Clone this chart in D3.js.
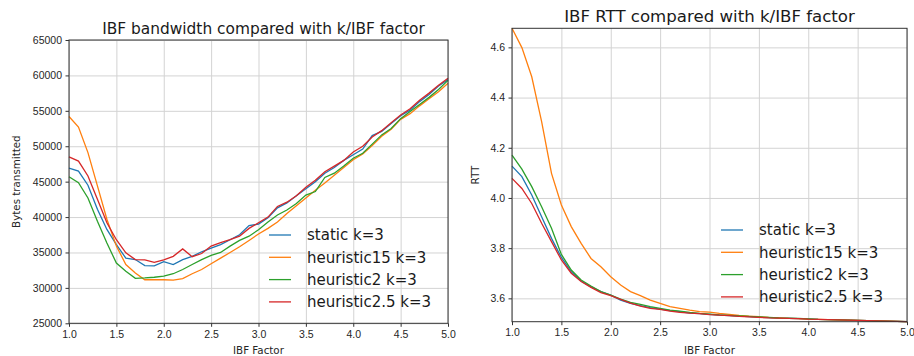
<!DOCTYPE html>
<html>
<head>
<meta charset="utf-8">
<script src="https://cdn.jsdelivr.net/npm/d3@7"></script>
<style>
  body { margin: 0; background: #fff; }
  svg { display: block; font-family: "DejaVu Sans", sans-serif; }
  .grid line { stroke: #d3d3d3; stroke-width: 1; }
  .grid path { display: none; }
  .axis text { fill: #262626; font-size: 10.5px; }
  .axis line { stroke: #333; }
  .axis path { display: none; }
</style>
</head>
<body>
<svg id="chart" width="914" height="356"></svg>
<script>
// IBF factor on the x axis (1.0 .. 5.0, step 0.1)
const ibfFactor = [1.0,1.1,1.2,1.3,1.4,1.5,1.6,1.7,1.8,1.9,2.0,2.1,2.2,2.3,2.4,2.5,2.6,2.7,2.8,2.9,
                   3.0,3.1,3.2,3.3,3.4,3.5,3.6,3.7,3.8,3.9,4.0,4.1,4.2,4.3,4.4,4.5,4.6,4.7,4.8,4.9,5.0];

const seriesNames = ["static k=3", "heuristic15 k=3", "heuristic2 k=3", "heuristic2.5 k=3"];

// bytes transmitted
const bwStatic = [46900,46500,44500,41100,38250,36100,34200,34000,33150,33100,33700,33300,34000,34450,35100,35600,
                  36100,36800,37500,38800,39000,39900,41300,42000,43000,44000,45000,46200,47000,48000,48800,49600,
                  51500,52100,53200,54300,55100,56300,57300,58500,59400];
const bwH15 = [54200,52700,49100,44400,39700,35900,33300,32100,31150,31150,31150,31100,31300,32000,32600,33400,
               34200,35000,35800,36700,37600,38400,39300,40500,41600,42700,43800,44800,45900,47000,48100,48900,
               50100,51400,52400,53800,54600,55700,56700,57700,58900];
const bwH2 = [45700,44850,42700,39400,36350,33500,32350,31350,31400,31500,31650,32000,32600,33300,34000,34600,
              35000,35900,36700,37300,38200,39300,40300,41000,41900,43100,43600,45600,46200,47200,48300,49000,
              50300,51600,52500,53900,54900,55900,56900,58000,59300];
const bwH25 = [48500,47900,45800,42500,39200,36800,34950,34000,33950,33600,33950,34450,35500,34400,34850,35900,
               36400,36800,37300,38400,39200,40000,41500,42100,43000,44200,45200,46400,47200,48000,49200,50000,
               51300,52200,53300,54400,55300,56500,57500,58600,59600];

// round trip time
const rttStatic = [4.127,4.085,4.012,3.925,3.839,3.763,3.706,3.669,3.646,3.627,3.613,3.593,3.580,3.571,3.563,3.557,
                   3.551,3.547,3.541,3.539,3.536,3.533,3.531,3.529,3.527,3.525,3.523,3.521,3.520,3.519,3.518,3.516,
                   3.515,3.514,3.513,3.512,3.511,3.510,3.509,3.508,3.507];
const rttH15 = [4.676,4.599,4.483,4.304,4.098,3.972,3.886,3.819,3.759,3.726,3.686,3.653,3.627,3.611,3.593,3.580,
                3.567,3.560,3.553,3.547,3.545,3.540,3.536,3.532,3.529,3.527,3.524,3.522,3.520,3.519,3.517,3.516,
                3.515,3.514,3.513,3.512,3.511,3.510,3.509,3.508,3.507];
const rttH2 = [4.171,4.115,4.045,3.965,3.879,3.775,3.713,3.673,3.649,3.627,3.613,3.597,3.584,3.576,3.567,3.560,
               3.553,3.549,3.544,3.540,3.537,3.534,3.532,3.530,3.528,3.526,3.524,3.522,3.521,3.520,3.518,3.516,
               3.515,3.514,3.513,3.512,3.511,3.510,3.509,3.508,3.507];
const rttH25 = [4.078,4.038,3.978,3.899,3.826,3.753,3.700,3.667,3.644,3.623,3.611,3.596,3.581,3.569,3.560,3.556,
                3.549,3.544,3.541,3.539,3.535,3.533,3.531,3.528,3.526,3.524,3.522,3.521,3.520,3.519,3.517,3.516,
                3.515,3.514,3.513,3.512,3.511,3.510,3.509,3.508,3.507];

const xTicks = [1.0,1.5,2.0,2.5,3.0,3.5,4.0,4.5,5.0];
const bwTicks = [25000,30000,35000,40000,45000,50000,55000,60000,65000];
const rttTicks = [3.6,3.8,4.0,4.2,4.4,4.6];

const colors = ["#1f77b4", "#ff7f0e", "#2ca02c", "#d62728"];

const svg = d3.select("#chart");

function drawPanel(cfg) {
    const x = d3.scaleLinear().domain([1, 5]).range([cfg.left, cfg.right]);
    const y = d3.scaleLinear().domain(cfg.yDomain).range([cfg.bottom, cfg.top]);
    const g = svg.append("g");

    // grid
    g.append("g").attr("class", "grid")
        .attr("transform", `translate(0,${cfg.bottom})`)
        .call(d3.axisBottom(x).tickValues(xTicks).tickSize(-(cfg.bottom - cfg.top)).tickFormat(""));
    g.append("g").attr("class", "grid")
        .attr("transform", `translate(${cfg.left},0)`)
        .call(d3.axisLeft(y).tickValues(cfg.yTicks).tickSize(-(cfg.right - cfg.left)).tickFormat(""));

    // lines
    const line = d3.line()
        .x((d, i) => x(ibfFactor[i]))
        .y(d => y(d));
    cfg.series.forEach((s, i) => {
        g.append("path")
            .datum(s)
            .attr("fill", "none")
            .attr("stroke", colors[i])
            .attr("stroke-width", 1.3)
            .attr("d", line);
    });

    // frame
    g.append("rect")
        .attr("x", cfg.left).attr("y", cfg.top)
        .attr("width", cfg.right - cfg.left).attr("height", cfg.bottom - cfg.top)
        .attr("fill", "none").attr("stroke", "#333").attr("stroke-width", 1);

    // axes
    g.append("g").attr("class", "axis")
        .attr("transform", `translate(0,${cfg.bottom})`)
        .call(d3.axisBottom(x).tickValues(xTicks).tickSize(3.5).tickPadding(3.5).tickFormat(d3.format(".1f")));
    g.append("g").attr("class", "axis")
        .attr("transform", `translate(${cfg.left},0)`)
        .call(d3.axisLeft(y).tickValues(cfg.yTicks).tickSize(3.5).tickPadding(3.5).tickFormat(cfg.yFormat));

    // title and labels
    g.append("text")
        .attr("x", (cfg.left + cfg.right) / 2 + cfg.titleShift).attr("y", cfg.top - 6)
        .attr("text-anchor", "middle")
        .attr("font-size", cfg.titleSize).attr("fill", "#1a1a1a")
        .text(cfg.title);
    g.append("text")
        .attr("x", (cfg.left + cfg.right) / 2).attr("y", 354)
        .attr("text-anchor", "middle")
        .attr("font-size", "10.3px").attr("fill", "#262626")
        .text("IBF Factor");
    g.append("text")
        .attr("transform", `translate(${cfg.yLabelX},${(cfg.top + cfg.bottom) / 2}) rotate(-90)`)
        .attr("text-anchor", "middle")
        .attr("font-size", "10.3px").attr("fill", "#262626")
        .text(cfg.yLabel);

    // legend (no frame)
    const leg = g.append("g");
    seriesNames.forEach((name, i) => {
        const ly = cfg.legendY + i * 22.3;
        leg.append("line")
            .attr("x1", cfg.legendX).attr("x2", cfg.legendX + 22)
            .attr("y1", ly).attr("y2", ly)
            .attr("stroke", colors[i]).attr("stroke-width", 1.3);
        leg.append("text")
            .attr("x", cfg.legendX + 38).attr("y", ly)
            .attr("dy", "0.36em")
            .attr("font-size", "15px").attr("fill", "#1a1a1a")
            .text(name);
    });
}

drawPanel({
    left: 69, right: 448, top: 40, bottom: 323.3,
    yDomain: [25000, 65000], yTicks: bwTicks, yFormat: d3.format("d"),
    series: [bwStatic, bwH15, bwH2, bwH25],
    title: "IBF bandwidth compared with k/IBF factor", titleSize: "15.4px", titleShift: 5,
    yLabel: "Bytes transmitted", yLabelX: 20,
    legendX: 269, legendY: 235
});

drawPanel({
    left: 512, right: 907, top: 28.3, bottom: 321.7,
    yDomain: [3.507, 4.676], yTicks: rttTicks, yFormat: d3.format(".1f"),
    series: [rttStatic, rttH15, rttH2, rttH25],
    title: "IBF RTT compared with k/IBF factor", titleSize: "16.6px", titleShift: 0,
    yLabel: "RTT", yLabelX: 479,
    legendX: 721, legendY: 230
});
</script>
</body>
</html>
